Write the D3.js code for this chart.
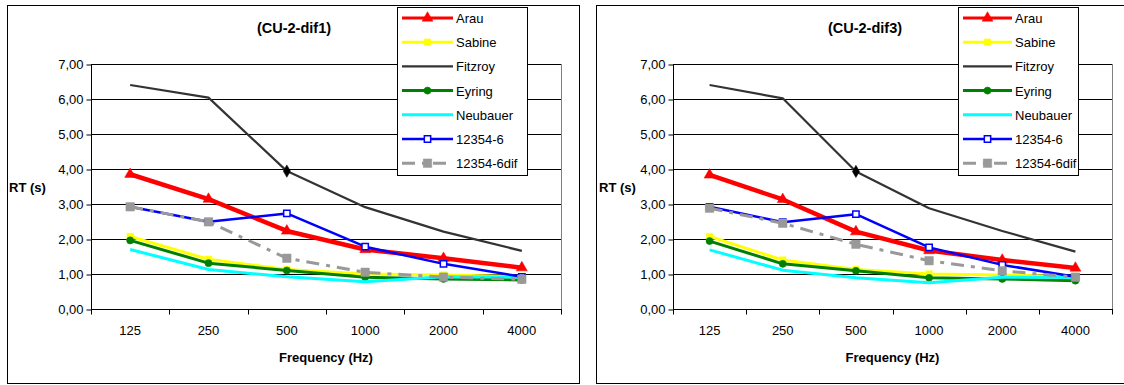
<!DOCTYPE html>
<html>
<head>
<meta charset="utf-8">
<script src="https://cdn.jsdelivr.net/npm/d3@7"></script>
<style>
  body { margin: 0; background: #fff; }
  svg { display: block; font-family: "Liberation Sans", Arial, sans-serif; }
</style>
</head>
<body>
<svg id="chart" width="1124" height="385"></svg>
<script>
// categories and axis ticks
const frequencies = ['125', '250', '500', '1000', '2000', '4000'];
const yTicks = [0, 1, 2, 3, 4, 5, 6, 7];
const seriesNames = ['Arau', 'Sabine', 'Fitzroy', 'Eyring', 'Neubauer', '12354-6', '12354-6dif'];
const fitzroyMarkedFreq = ['500'];

// (CU-2-dif1)
const arauDif1 = [3.85, 3.14, 2.23, 1.70, 1.45, 1.18];
const sabineDif1 = [2.07, 1.42, 1.13, 1.00, 0.97, 0.93];
const fitzroyDif1 = [6.40, 6.04, 3.94, 2.91, 2.21, 1.66];
const eyringDif1 = [1.96, 1.31, 1.10, 0.91, 0.86, 0.83];
const neubauerDif1 = [1.70, 1.13, 0.92, 0.78, 0.92, 0.91];
const iso12354Dif1 = [2.92, 2.49, 2.73, 1.78, 1.29, 0.92];
const iso12354difDif1 = [2.92, 2.49, 1.45, 1.05, 0.91, 0.85];

// (CU-2-dif3)
const arauDif3 = [3.83, 3.13, 2.21, 1.67, 1.40, 1.17];
const sabineDif3 = [2.07, 1.40, 1.13, 1.00, 0.97, 0.93];
const fitzroyDif3 = [6.40, 6.02, 3.93, 2.88, 2.23, 1.64];
const eyringDif3 = [1.94, 1.29, 1.09, 0.89, 0.86, 0.81];
const neubauerDif3 = [1.69, 1.11, 0.89, 0.75, 0.91, 0.90];
const iso12354Dif3 = [2.92, 2.48, 2.71, 1.76, 1.26, 0.92];
const iso12354difDif3 = [2.88, 2.45, 1.85, 1.38, 1.09, 0.91];

// series look (Excel-like)
const styles = {
  'Arau':       { color: '#ff0000', width: 4.5, dash: null,     marker: 'triangle', size: 52, fill: '#ff0000' },
  'Sabine':     { color: '#ffff00', width: 3,   dash: null,     marker: 'square',   size: 42, fill: '#ffff00' },
  'Fitzroy':    { color: '#333333', width: 2.2, dash: null,     marker: null },
  'Eyring':     { color: '#008000', width: 3,   dash: null,     marker: 'circle',   size: 40, fill: '#008000' },
  'Neubauer':   { color: '#00ffff', width: 3,   dash: null,     marker: null },
  '12354-6':    { color: '#0000ff', width: 2.5, dash: null,     marker: 'square',   size: 40, fill: '#ffffff' },
  '12354-6dif': { color: '#999999', width: 3,   dash: '13,7,4,7', marker: 'square', size: 72, fill: '#999999' }
};

const symbolTypes = {
  triangle: d3.symbolTriangle,
  square: d3.symbolSquare,
  circle: d3.symbolCircle,
  diamond: d3.symbolDiamond
};

const panels = [
  {
    title: '(CU-2-dif1)',
    box: { x: 7, y: 5, w: 572, h: 378 },
    plot: { left: 91, right: 561, top: 64, bottom: 309 },
    titleX: 294, rtX: 9,
    legend: { x: 397, y: 7, w: 130, h: 168 },
    values: [arauDif1, sabineDif1, fitzroyDif1, eyringDif1, neubauerDif1, iso12354Dif1, iso12354difDif1]
  },
  {
    title: '(CU-2-dif3)',
    box: { x: 596, y: 5, w: 545, h: 378 },
    plot: { left: 673, right: 1112, top: 64, bottom: 309 },
    titleX: 865, rtX: 599,
    legend: { x: 958, y: 7, w: 120, h: 168 },
    values: [arauDif3, sabineDif3, fitzroyDif3, eyringDif3, neubauerDif3, iso12354Dif3, iso12354difDif3]
  }
];

const svg = d3.select('#chart');

function drawMarker(g, type, size, st, cx, cy) {
  g.append('path')
    .attr('d', d3.symbol().type(symbolTypes[type]).size(size)())
    .attr('transform', `translate(${cx},${cy})`)
    .attr('fill', st.fill)
    .attr('stroke', st.color)
    .attr('stroke-width', type === 'square' && st.fill === '#ffffff' ? 1.5 : 0.5);
}

function drawPanel(p) {
  const g = svg.append('g');

  g.append('rect')
    .attr('x', p.box.x + 0.5).attr('y', p.box.y + 0.5)
    .attr('width', p.box.w).attr('height', p.box.h)
    .attr('fill', '#fff').attr('stroke', '#000').attr('stroke-width', 1);

  const x = d3.scaleBand().domain(frequencies).range([p.plot.left, p.plot.right]).padding(0);
  const y = d3.scaleLinear().domain([0, 7]).range([p.plot.bottom, p.plot.top]);

  // gridlines
  g.append('g').selectAll('line')
    .data(yTicks.filter(d => d > 0))
    .join('line')
    .attr('x1', p.plot.left).attr('x2', p.plot.right)
    .attr('y1', d => Math.round(y(d)) + 0.5).attr('y2', d => Math.round(y(d)) + 0.5)
    .attr('stroke', '#000').attr('stroke-width', 1);

  // right plot edge
  g.append('line')
    .attr('x1', p.plot.right + 0.5).attr('x2', p.plot.right + 0.5)
    .attr('y1', p.plot.top).attr('y2', p.plot.bottom)
    .attr('stroke', '#808080');

  // y axis
  const yAxis = d3.axisLeft(y).tickValues(yTicks).tickSize(5)
    .tickFormat(d => d3.format('.2f')(d).replace('.', ','));
  const ya = g.append('g')
    .attr('transform', `translate(${p.plot.left + 0.5},0)`)
    .call(yAxis);
  ya.select('.domain').attr('stroke', '#000').attr('d', `M0,${p.plot.top}V${p.plot.bottom}`);
  ya.selectAll('.tick line').attr('stroke', '#000').attr('transform', 'translate(0,0.5)');
  ya.selectAll('.tick text').attr('font-size', 13).attr('fill', '#000').attr('x', -8)
    .attr('font-family', '"Liberation Sans", Arial, sans-serif');

  // x axis: ticks at category boundaries
  const xa = g.append('g')
    .attr('transform', `translate(0,${p.plot.bottom + 0.5})`);
  xa.append('line')
    .attr('x1', p.plot.left).attr('x2', p.plot.right + 1)
    .attr('stroke', '#000');
  const bounds = frequencies.map(f => x(f)).concat([x(frequencies[frequencies.length - 1]) + x.bandwidth()]);
  xa.selectAll('line.tk').data(bounds).join('line')
    .attr('class', 'tk')
    .attr('x1', d => Math.round(d) + 0.5).attr('x2', d => Math.round(d) + 0.5)
    .attr('y1', 0).attr('y2', 5)
    .attr('stroke', '#000');
  xa.selectAll('text').data(frequencies).join('text')
    .attr('x', d => x(d) + x.bandwidth() / 2)
    .attr('y', 25)
    .attr('text-anchor', 'middle')
    .attr('font-size', 13)
    .text(d => d);

  // titles
  g.append('text')
    .attr('x', p.titleX).attr('y', 33)
    .attr('text-anchor', 'middle')
    .attr('font-size', 14.5).attr('font-weight', 'bold')
    .text(p.title);
  g.append('text')
    .attr('x', (p.plot.left + p.plot.right) / 2).attr('y', 362)
    .attr('text-anchor', 'middle')
    .attr('font-size', 13).attr('font-weight', 'bold')
    .text('Frequency (Hz)');
  g.append('text')
    .attr('x', p.rtX).attr('y', 192)
    .attr('font-size', 13).attr('font-weight', 'bold')
    .text('RT (s)');

  // series
  const line = d3.line()
    .x((d, i) => x(frequencies[i]) + x.bandwidth() / 2)
    .y(d => y(d));

  const series = g.append('g');
  seriesNames.forEach((name, si) => {
    const st = styles[name];
    const vals = p.values[si];
    series.append('path')
      .attr('d', line(vals))
      .attr('fill', 'none')
      .attr('stroke', st.color)
      .attr('stroke-width', st.width)
      .attr('stroke-linejoin', 'round')
      .attr('stroke-dasharray', st.dash);
    if (st.marker) {
      vals.forEach((v, i) => {
        drawMarker(series, st.marker, st.size, st, x(frequencies[i]) + x.bandwidth() / 2, y(v));
      });
    }
    if (name === 'Fitzroy') {
      fitzroyMarkedFreq.forEach(f => {
        const i = frequencies.indexOf(f);
        drawMarker(series, 'diamond', 44, { color: '#000', fill: '#000' }, x(f) + x.bandwidth() / 2, y(vals[i]));
      });
    }
  });

  // legend
  const L = p.legend;
  const lg = g.append('g');
  lg.append('rect')
    .attr('x', L.x + 0.5).attr('y', L.y + 0.5)
    .attr('width', L.w).attr('height', L.h)
    .attr('fill', '#fff').attr('stroke', '#000');
  seriesNames.forEach((name, i) => {
    const st = styles[name];
    const cy = L.y + 11 + i * 24.2;
    const x0 = L.x + 5, x1 = L.x + 5 + (L.w > 125 ? 51 : 49);
    lg.append('line')
      .attr('x1', x0).attr('x2', x1)
      .attr('y1', cy).attr('y2', cy)
      .attr('stroke', st.color)
      .attr('stroke-width', Math.min(st.width, 3))
      .attr('stroke-dasharray', st.dash);
    if (st.marker) drawMarker(lg, st.marker, st.size, st, (x0 + x1) / 2, cy);
    lg.append('text')
      .attr('x', x1 + 3).attr('y', cy + 5)
      .attr('font-size', 13)
      .text(name);
  });
}

panels.forEach(drawPanel);
</script>
</body>
</html>
